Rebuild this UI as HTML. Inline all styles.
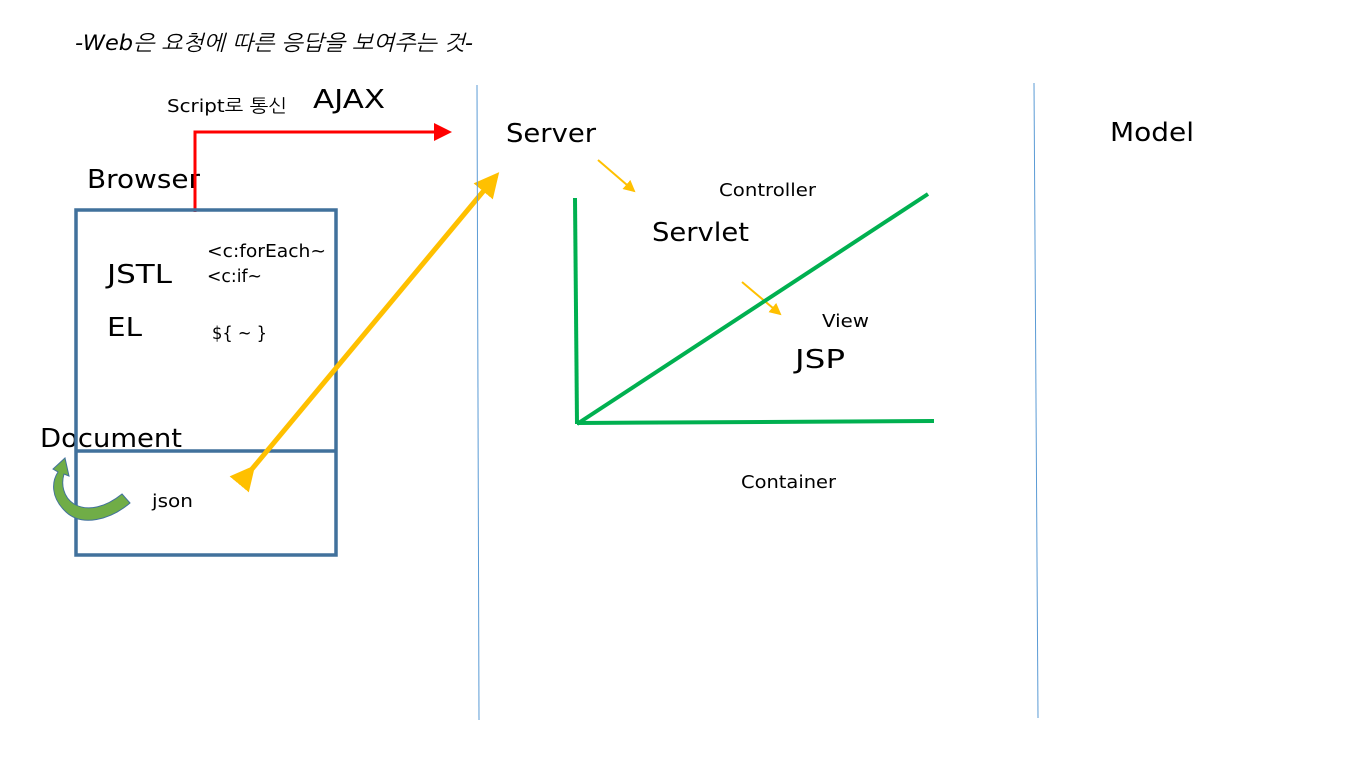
<!DOCTYPE html>
<html><head><meta charset="utf-8"><style>
html,body{margin:0;padding:0;background:#fff;}
svg{display:block;}
text{font-family:"DejaVu Sans","NanumGothic","Noto Sans CJK KR",sans-serif;fill:#000;}
</style></head><body>
<svg width="1371" height="762" viewBox="0 0 1371 762" xmlns="http://www.w3.org/2000/svg">
<defs>
<marker id="ar" markerWidth="6" markerHeight="6" refX="5" refY="3" orient="auto" markerUnits="strokeWidth"><path d="M0,0 L6,3 L0,6 z" fill="#FF0000"/></marker>
<marker id="ay" markerWidth="5" markerHeight="5" refX="4" refY="2.5" orient="auto" markerUnits="strokeWidth"><path d="M0,0 L5,2.5 L0,5 z" fill="#FFC000"/></marker>
<marker id="ays" markerWidth="6" markerHeight="6" refX="5" refY="3" orient="auto" markerUnits="strokeWidth"><path d="M0,0 L6,3 L0,6 z" fill="#FFC000"/></marker>
</defs>
<text x="75" y="50" font-size="21" font-style="italic" textLength="398" lengthAdjust="spacingAndGlyphs">-Web은 요청에 따른 응답을 보여주는 것-</text>
<text x="167" y="112" font-size="18" textLength="120" lengthAdjust="spacingAndGlyphs">Script로 통신</text>
<text x="313" y="108" font-size="26" textLength="72" lengthAdjust="spacingAndGlyphs">AJAX</text>
<text x="87" y="188" font-size="26" textLength="113" lengthAdjust="spacingAndGlyphs">Browser</text>
<text x="107" y="283" font-size="26" textLength="65" lengthAdjust="spacingAndGlyphs">JSTL</text>
<text x="107" y="336" font-size="26" textLength="35" lengthAdjust="spacingAndGlyphs">EL</text>
<text x="207" y="257" font-size="18" textLength="119" lengthAdjust="spacingAndGlyphs">&lt;c:forEach~</text>
<text x="207" y="282" font-size="18" textLength="55" lengthAdjust="spacingAndGlyphs">&lt;c:if~</text>
<text x="212" y="339" font-size="18" textLength="55" lengthAdjust="spacingAndGlyphs">${ ~ }</text>
<text x="40" y="447" font-size="26" textLength="142" lengthAdjust="spacingAndGlyphs">Document</text>
<text x="152" y="507" font-size="18" textLength="41" lengthAdjust="spacingAndGlyphs">json</text>
<text x="506" y="142" font-size="26" textLength="90" lengthAdjust="spacingAndGlyphs">Server</text>
<text x="1110" y="141" font-size="26" textLength="84" lengthAdjust="spacingAndGlyphs">Model</text>
<text x="719" y="196" font-size="18" textLength="97" lengthAdjust="spacingAndGlyphs">Controller</text>
<text x="652" y="241" font-size="26" textLength="97" lengthAdjust="spacingAndGlyphs">Servlet</text>
<text x="822" y="327" font-size="18" textLength="47" lengthAdjust="spacingAndGlyphs">View</text>
<text x="795" y="368" font-size="26" textLength="50" lengthAdjust="spacingAndGlyphs">JSP</text>
<text x="741" y="488" font-size="18" textLength="95" lengthAdjust="spacingAndGlyphs">Container</text>
<path d="M195,212 L195,132 L449,132" fill="none" stroke="#FF0000" stroke-width="3" marker-end="url(#ar)"/>
<rect x="76" y="210" width="260" height="345" fill="none" stroke="#41719C" stroke-width="3.5"/>
<line x1="76" y1="451" x2="336" y2="451" stroke="#41719C" stroke-width="3.5"/>
<path d="M130,503 C110,520 82,527 66,512 C50,497 52,481 58,472 L53,469 L65,458 L69,476 L64,474 C61,484 63,497 74,504 C88,512 106,507 122,494 Z" fill="#70AD47" stroke="#41719C" stroke-width="1"/>
<line x1="252" y1="469" x2="496" y2="176" stroke="#FFC000" stroke-width="5" marker-end="url(#ay)" marker-start="url(#ay)"/>
<line x1="477" y1="85" x2="479" y2="720" stroke="#5B9BD5" stroke-width="1"/>
<line x1="1034" y1="83" x2="1038" y2="718" stroke="#5B9BD5" stroke-width="1"/>
<line x1="598" y1="160" x2="634" y2="191" stroke="#FFC000" stroke-width="2" marker-end="url(#ays)"/>
<line x1="742" y1="282" x2="780" y2="314" stroke="#FFC000" stroke-width="2" marker-end="url(#ays)"/>
<g stroke="#00B050" stroke-width="4" fill="none">
<line x1="575" y1="198" x2="577" y2="424"/>
<line x1="577" y1="423" x2="934" y2="421"/>
<line x1="577" y1="424" x2="928" y2="194"/>
</g>
</svg>
</body></html>
